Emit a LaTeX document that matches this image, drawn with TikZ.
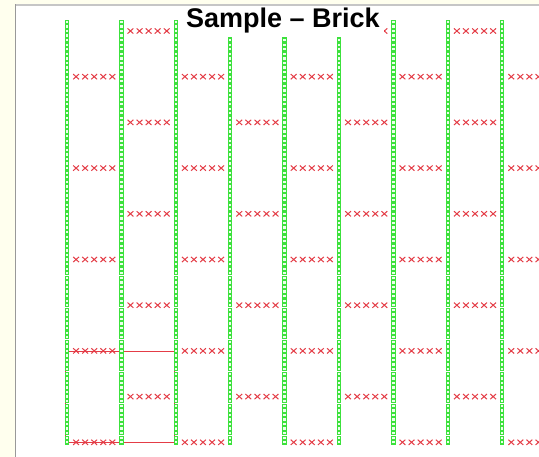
\documentclass[tikz,border=0pt]{standalone}
\usepackage{fontspec}
\setmainfont{Liberation Sans}

\definecolor{paper}{RGB}{255,255,238}
\definecolor{markgreen}{RGB}{60,225,60}
\definecolor{markfill}{RGB}{235,255,235}
\definecolor{markred}{RGB}{228,60,70}

\begin{document}
\begin{tikzpicture}[x=1pt, y=-1pt,
		sqmark/.style={draw=markgreen, fill=markfill, line width=1.1pt},
		xmark/.style={draw=markred, line width=1pt},
		cellbox/.style={draw=markred, line width=1pt},
		titlebox/.style={fill=white, anchor=base, inner xsep=4pt, inner ysep=3.5pt, font=\bfseries\fontsize{27}{27}\selectfont},
	]

	\useasboundingbox (0,0) rectangle (539,457);
	\clip (0,0) rectangle (539,457);

	% Frame
	\fill[paper] (0,0) rectangle (539,457);
	\fill[white] (15,5) rectangle (539,457);

	% Unit cell
	\draw[cellbox] (65.3,351.5) rectangle (174.1,442.8);

	% Bricks (horizontal joints)
	\foreach \g in {0,...,8}
		\foreach \n in {0,...,4}
			\foreach \m in {1,...,5} {
				\pgfmathsetmacro\cx{67+54.4*\g+54.4/6*\m}
				\pgfmathsetmacro\cy{31+45.7*(2*\n+1-mod(\g,2))}
				\draw[xmark] (\cx-2.9,\cy-2.6) -- ++(5.8,5.2) (\cx-2.9,\cy+2.6) -- ++(5.8,-5.2);
			}

	% Columns (vertical joints)
	\foreach \i in {0,...,8}
		\foreach \k in {0,...,92}
			\draw[sqmark] ({67+54.4*\i-1.7},{21.9+4.57*\k-1.7}) rectangle ++(3.4,3.4);

	% Title
	\node[titlebox] (title) at (283,28) {Sample – Brick};

	% Border
	\draw[gray!45, line width=1.2pt] (15,5) -- (539,5);
	\draw[gray!80, line width=1.6pt] (15.5,4.4) -- (15.5,457);

\end{tikzpicture}
\end{document}
